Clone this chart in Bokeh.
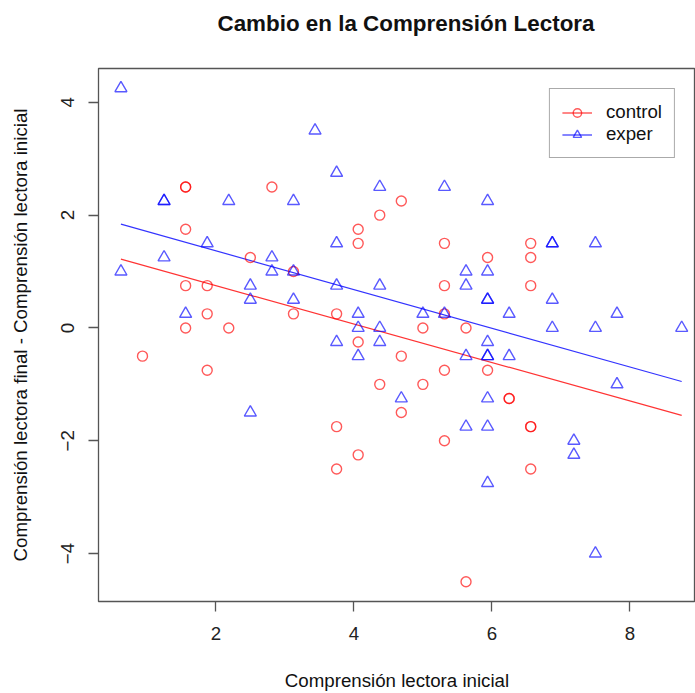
from bokeh.plotting import figure
from bokeh.models import Range1d, FixedTicker, Legend, LegendItem
from bokeh.embed import file_html
from bokeh.resources import INLINE

# ---- data ----
control_x = [0.9375, 1.5625, 1.5625, 1.5625, 1.5625, 1.5625, 1.875, 1.875, 1.875,
             2.1875, 2.5, 2.8125, 3.125, 3.125, 3.75, 3.75, 3.75, 4.0625, 4.0625,
             4.0625, 4.0625, 4.375, 4.375, 4.6875, 4.6875, 4.6875, 5.0, 5.0,
             5.3125, 5.3125, 5.3125, 5.3125, 5.3125, 5.625, 5.625, 5.9375, 5.9375,
             6.25, 6.25, 6.5625, 6.5625, 6.5625, 6.5625, 6.5625, 6.5625]
control_y = [-0.5, 2.5, 2.5, 1.75, 0.75, 0.0, 0.75, 0.25, -0.75,
             0.0, 1.25, 2.5, 1.0, 0.25, 0.25, -1.75, -2.5, 1.75, 1.5,
             -0.25, -2.25, 2.0, -1.0, 2.25, -0.5, -1.5, 0.0, -1.0,
             1.5, 0.75, 0.25, -0.75, -2.0, 0.0, -4.5, 1.25, -0.75,
             -1.25, -1.25, 1.5, 1.25, 0.75, -1.75, -1.75, -2.5]

exper_x = [0.625, 0.625, 1.25, 1.25, 1.25, 1.5625, 1.875, 2.1875, 2.5, 2.5, 2.5,
           2.8125, 2.8125, 3.125, 3.125, 3.125, 3.4375, 3.75, 3.75, 3.75, 3.75,
           4.0625, 4.0625, 4.0625, 4.375, 4.375, 4.375, 4.375, 4.6875, 5.0,
           5.3125, 5.3125, 5.625, 5.625, 5.625, 5.625, 5.9375, 5.9375, 5.9375,
           5.9375, 5.9375, 5.9375, 5.9375, 5.9375, 5.9375, 5.9375, 6.25, 6.25,
           6.875, 6.875, 6.875, 6.875, 7.1875, 7.1875, 7.5, 7.5, 7.5, 7.8125,
           7.8125, 8.75]
exper_y = [4.25, 1.0, 2.25, 2.25, 1.25, 0.25, 1.5, 2.25, 0.75, 0.5, -1.5,
           1.25, 1.0, 2.25, 1.0, 0.5, 3.5, 2.75, 1.5, 0.75, -0.25,
           0.25, 0.0, -0.5, 2.5, 0.75, 0.0, -0.25, -1.25, 0.25,
           2.5, 0.25, 1.0, 0.75, -0.5, -1.75, 2.25, 1.0, 0.5,
           0.5, -0.25, -0.5, -0.5, -1.25, -1.75, -2.75, 0.25, -0.5,
           1.5, 1.5, 0.5, 0.0, -2.0, -2.25, 1.5, 0.0, -4.0, 0.25,
           -1.0, 0.0]

# fitted lines (end points)
fit_x = [0.625, 8.75]
control_fit = [1.22, -1.55]
exper_fit = [1.84, -0.95]

x_ticks = [2, 4, 6, 8]
y_ticks = [-4, -2, 0, 2, 4]

TITLE = "Cambio en la Comprensión Lectora"
FONT = "Liberation Sans"
RED = "#FF0000"
BLUE = "#0000FF"

p = figure(width=695, height=693, output_backend="svg", toolbar_location=None,
           x_range=Range1d(0.3, 8.95), y_range=Range1d(-4.85, 4.6),
           min_border_left=98, min_border_right=0, min_border_top=67,
           min_border_bottom=87)

p.grid.visible = False
p.outline_line_color = "#555555"
p.outline_line_width = 1.3
p.background_fill_color = "white"

# an empty second line lifts the title towards the top of the page
p.title.text = TITLE + "\n "
p.title.text_font = FONT
p.title.text_font_style = "bold"
p.title.text_font_size = "22.4px"
p.title.align = "left"
p.title.offset = 119
p.title.standoff = 16
p.title.text_color = "#111111"

for ax in (p.xaxis[0], p.yaxis[0]):
    ax.axis_line_color = None
    ax.major_tick_in = 0
    ax.major_tick_out = 10
    ax.major_tick_line_color = "#555555"
    ax.major_tick_line_width = 1.3
    ax.minor_tick_line_color = None
    ax.major_label_text_font = FONT
    ax.major_label_text_font_size = "18.7px"
    ax.major_label_text_color = "#222222"
    ax.axis_label_text_font = FONT
    ax.axis_label_text_font_size = "18.7px"
    ax.axis_label_text_font_style = "normal"
    ax.axis_label_text_color = "#111111"

p.xaxis.ticker = FixedTicker(ticks=x_ticks)
p.yaxis.ticker = FixedTicker(ticks=y_ticks)
p.xaxis.major_label_standoff = 15
p.yaxis.major_label_standoff = 14
p.yaxis.major_label_orientation = "vertical"
p.xaxis.axis_label = "Comprensión lectora inicial"
p.yaxis.axis_label = "Comprensión lectora final - Comprensión lectora inicial"
p.xaxis.axis_label_standoff = 27
p.yaxis.axis_label_standoff = 28

lc = p.line(fit_x, control_fit, line_color=RED, line_width=1.2, line_alpha=0.8)
le = p.line(fit_x, exper_fit, line_color=BLUE, line_width=1.2, line_alpha=0.8)
sc = p.scatter(control_x, control_y, marker="circle", size=10, fill_color=None,
               line_color=RED, line_alpha=0.65, line_width=1.4)
se = p.scatter(exper_x, exper_y, marker="triangle", size=12, fill_color=None,
               line_color=BLUE, line_alpha=0.65, line_width=1.4)

legend = Legend(items=[LegendItem(label="control", renderers=[lc, sc]),
                       LegendItem(label="exper", renderers=[le, se])],
                location="top_right", margin=20, padding=12, spacing=0,
                glyph_width=30, glyph_height=21, label_height=21,
                label_standoff=14,
                label_text_font=FONT, label_text_font_size="18.7px",
                label_text_color="#111111",
                border_line_color="#555555", border_line_width=1.5,
                background_fill_color="white", background_fill_alpha=1.0)
p.add_layout(legend)

open("out.html", "w").write(file_html(p, INLINE))
